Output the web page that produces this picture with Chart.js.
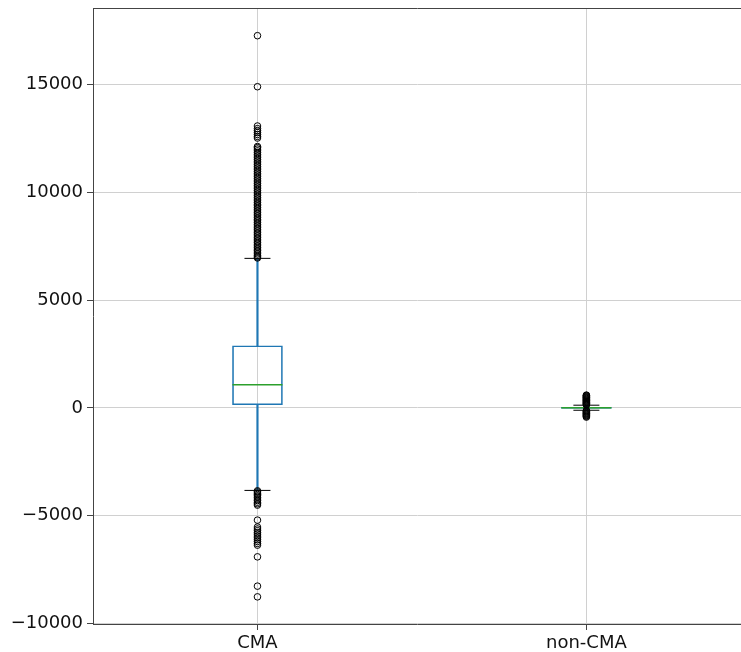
<!DOCTYPE html>
<html>
<head>
<meta charset="utf-8">
<script src="https://cdn.jsdelivr.net/npm/chart.js@4.4.1/dist/chart.umd.min.js"></script>
<style>
  html, body { margin: 0; padding: 0; background: #fff; overflow: hidden; }
  #wrap { width: 741px; height: 652px; }
</style>
</head>
<body>
<div id="wrap"><canvas id="boxChart"></canvas></div>
<script>
/* box plot data */
const categories = ['CMA', 'non-CMA'];
const q1 = [144, -20];
const median = [1072, 5];
const q3 = [2883, 30];
const whiskerLow = [-3830, -110];
const whiskerHigh = [6940, 125];
const yTicks = [-10000, -5000, 0, 5000, 10000, 15000];

// fliers
const cmaOutliers = [
    6960, 7010, 7080, 7150, 7230, 7300, 7370, 7450, 7520, 7600, 7680, 7750,
    7830, 7900, 7980, 8060, 8130, 8210, 8290, 8360, 8440, 8520, 8600, 8680,
    8750, 8830, 8910, 8990, 9060, 9140, 9220, 9300, 9380, 9450, 9530, 9610,
    9690, 9770, 9850, 9930, 10010, 10090, 10170, 10250, 10330, 10410, 10490,
    10570, 10650, 10730, 10810, 10890, 10970, 11050, 11130, 11210, 11290,
    11370, 11450, 11530, 11610, 11690, 11770, 11850, 11930, 12010, 12080, 12130,
    12525, 12600, 12690, 12780, 12870, 12960, 13083,
    14907, 17275,
    -3850, -3900, -3960, -4020, -4080, -4150, -4230, -4300, -4380, -4450, -4512,
    -5209, -5530, -5620, -5700, -5790, -5860, -5950, -6030, -6120, -6200,
    -6290, -6370, -6913, -8273, -8770
];
const nonCmaOutliers = [
    135, 160, 190, 215, 245, 270, 300, 330, 355, 385, 410, 440, 470, 495,
    520, 550, 575, 594,
    -120, -150, -180, -210, -245, -270, -300, -330, -360, -390, -427
];

const C0 = '#1f77b4';
const C2 = '#2ca02c';
const spineColor = '#444';
const gridColor = '#d0d0d0';

/* boxes sit at positions 1, 2 like matplotlib; right side is cut at the window edge */
function pos(i) { return i + 1; }
function pts(values, i) {
    return values.map(v => ({ x: pos(i), y: v }));
}

const boxes = categories.map((c, i) => ({ x: pos(i), y: [q1[i], q3[i]] }));
const upperWhisk = categories.map((c, i) => ({ x: pos(i), y: [q3[i], whiskerHigh[i]] }));
const lowerWhisk = categories.map((c, i) => ({ x: pos(i), y: [whiskerLow[i], q1[i]] }));
const caps = categories.flatMap((c, i) => [{ x: pos(i), y: whiskerLow[i] }, { x: pos(i), y: whiskerHigh[i] }]);
const medians = categories.map((c, i) => ({ x: pos(i), y: median[i] }));

const ctx = document.getElementById('boxChart').getContext('2d');
const boxChart = new Chart(ctx, {
    type: 'bar',
    data: {
        datasets: [
            {   // fliers
                type: 'scatter',
                data: pts(cmaOutliers, 0).concat(pts(nonCmaOutliers, 1)),
                pointStyle: 'circle',
                pointRadius: 3.3,
                borderColor: '#000',
                borderWidth: 1,
                backgroundColor: 'rgba(0,0,0,0)'
            },
            {   // medians
                type: 'scatter',
                data: medians,
                pointStyle: 'line',
                pointRadius: 25,
                borderColor: C2,
                borderWidth: 1.5
            },
            {   // caps
                type: 'scatter',
                data: caps,
                pointStyle: 'line',
                pointRadius: 13,
                borderColor: '#000',
                borderWidth: 1
            },
            {   // boxes
                data: boxes,
                grouped: false,
                barThickness: 50,
                backgroundColor: 'rgba(0,0,0,0)',
                borderColor: C0,
                borderWidth: 1,
                borderSkipped: false
            },
            {   // whiskers
                data: upperWhisk,
                grouped: false,
                barThickness: 1.5,
                backgroundColor: C0,
                borderWidth: 0
            },
            {
                data: lowerWhisk,
                grouped: false,
                barThickness: 1.5,
                backgroundColor: C0,
                borderWidth: 0
            }
        ]
    },
    options: {
        responsive: true,
        maintainAspectRatio: false,
        animation: false,
        events: [],
        layout: { padding: 0, autoPadding: false },
        plugins: {
            legend: { display: false },
            tooltip: { enabled: false }
        },
        scales: {
            x: {
                type: 'linear',
                position: 'bottom',
                min: 0.5,
                max: 2.47,
                offset: false,
                grid: { offset: false, color: gridColor, lineWidth: 1, tickLength: 6, tickColor: spineColor },
                border: { display: true, color: spineColor, width: 1 },
                afterBuildTicks: (scale) => { scale.ticks = categories.map((c, i) => ({ value: pos(i) })); },
                ticks: {
                    color: '#111',
                    padding: 3,
                    maxRotation: 0,
                    font: { family: 'DejaVu Sans', size: 18 },
                    callback: (v) => categories[v - 1]
                },
                afterFit: (scale) => { scale.height = 28; scale.paddingLeft = 0; scale.paddingRight = 0; }
            },
            x2: {
                type: 'linear',
                position: 'top',
                min: 0.5,
                max: 2.47,
                offset: false,
                grid: { display: false, offset: false },
                border: { display: true, color: spineColor, width: 1 },
                ticks: { display: false },
                afterFit: (scale) => { scale.height = 8; }
            },
            y: {
                type: 'linear',
                min: -10030,
                max: 18560,
                grid: { color: gridColor, lineWidth: 1, tickLength: 6, tickColor: spineColor },
                border: { display: true, color: spineColor, width: 1 },
                afterBuildTicks: (scale) => { scale.ticks = yTicks.map(v => ({ value: v })); },
                ticks: {
                    color: '#111',
                    padding: 4,
                    font: { family: 'DejaVu Sans', size: 18 },
                    callback: (v) => v < 0 ? '\u2212' + Math.abs(v) : String(v)
                },
                // pin the axis width and drop the label overflow padding
                afterFit: (scale) => { scale.width = 93; scale.paddingTop = 0; scale.paddingBottom = 0; }
            }
        }
    }
});
</script>
</body>
</html>
